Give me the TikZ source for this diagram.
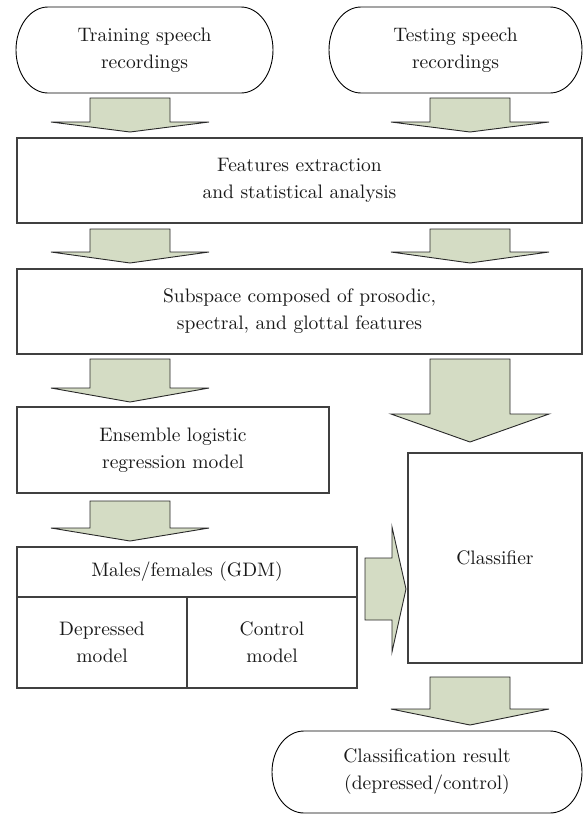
\documentclass[tikz,border=0pt]{standalone}
\usepackage{fontspec}
\setmainfont{lmroman10-regular}[Extension=.otf]
\usetikzlibrary{calc}
\definecolor{arrowfill}{RGB}{212,220,196}
\definecolor{boxline}{RGB}{64,64,64}
\definecolor{arrowline}{RGB}{40,40,40}
\tikzset{
  txt/.style={font=\fontsize{19.5}{27}\selectfont, align=center, text=black!90, inner sep=0pt},
  boxnode/.style={txt, draw=boxline, line width=1.3pt, anchor=north west, inner sep=0pt, outer sep=0pt},
  ovalnode/.style={txt, anchor=north west, inner sep=0pt, outer sep=0pt},
  ovalline/.style={draw=black, line width=0.9pt},
  blockarrow/.style={fill=arrowfill, draw=arrowline, line width=0.9pt, line join=miter},
}
% down block arrow: center x, top y, head y, tip y, half shaft, half head
\newcommand\downblock[6]{%
  \draw[blockarrow] ({#1-#5},#2) -- ({#1+#5},#2) -- ({#1+#5},#3) -- ({#1+#6},#3)
    -- (#1,#4) -- ({#1-#6},#3) -- ({#1-#5},#3) -- cycle;}
% oval outline around a node
\newcommand\ovalaround[3]{%
  \draw[ovalline] ([xshift=#2pt]#1.north west) -- ([xshift=-#2pt]#1.north east)
    arc[start angle=90, end angle=-90, x radius=#2pt, y radius=#3pt]
    -- ([xshift=#2pt]#1.south west)
    arc[start angle=270, end angle=90, x radius=#2pt, y radius=#3pt] -- cycle;}
\begin{document}
\begin{tikzpicture}[x=1pt,y=-1pt]
\useasboundingbox[fill=white] (0,0) rectangle (583,814);

% top ovals
\node[ovalnode, minimum width=257pt, minimum height=86pt] (train) at (16,7) {Training speech\\recordings};
\ovalaround{train}{32}{43}
\node[ovalnode, minimum width=253pt, minimum height=86pt] (test) at (329,7) {Testing speech\\recordings};
\ovalaround{test}{32}{43}

% row 1 arrows
\downblock{130}{98}{122}{132}{40}{79}
\downblock{470}{98}{122}{132}{40}{79}

% features box
\node[boxnode, minimum width=565pt, minimum height=85pt] (feat) at (17,138) {Features extraction\\and statistical analysis};

% row 2 arrows
\downblock{130}{229}{252}{263}{40}{79}
\downblock{470}{229}{252}{263}{40}{79}

% subspace box
\node[boxnode, minimum width=565pt, minimum height=85pt] (sub) at (17,269) {Subspace composed of prosodic,\\spectral, and glottal features};

% row 3 arrows
\downblock{130}{359}{388}{402}{40}{79}
\downblock{470}{359}{414}{442}{40}{79}

% ensemble box
\node[boxnode, minimum width=312pt, minimum height=86pt] (ens) at (17,407) {Ensemble logistic\\regression model};

% classifier
\node[boxnode, minimum width=174pt, minimum height=210pt] (cls) at (408,453) {Classifier};

% row 4 arrow
\downblock{130}{501}{528}{541}{40}{79}

% GDM box
\node[boxnode, minimum width=340pt, minimum height=50pt] (gdm) at (17,547) {Males/females (GDM)};
\node[boxnode, minimum width=170pt, minimum height=91pt] (dep) at (17,597) {Depressed\\model};
\node[boxnode, minimum width=170pt, minimum height=91pt] (ctl) at (187,597) {Control\\model};

% right-pointing arrow
\draw[blockarrow] (365,558) -- (392,558) -- (392,527) -- (406,589) -- (392,652) -- (392,620) -- (365,620) -- cycle;

% bottom arrow
\downblock{470}{677}{709}{725}{40}{79}

% result oval
\node[ovalnode, minimum width=310pt, minimum height=82pt] (res) at (272,731) {Classification result\\(depressed/control)};
\ovalaround{res}{32}{41}
\end{tikzpicture}
\end{document}
